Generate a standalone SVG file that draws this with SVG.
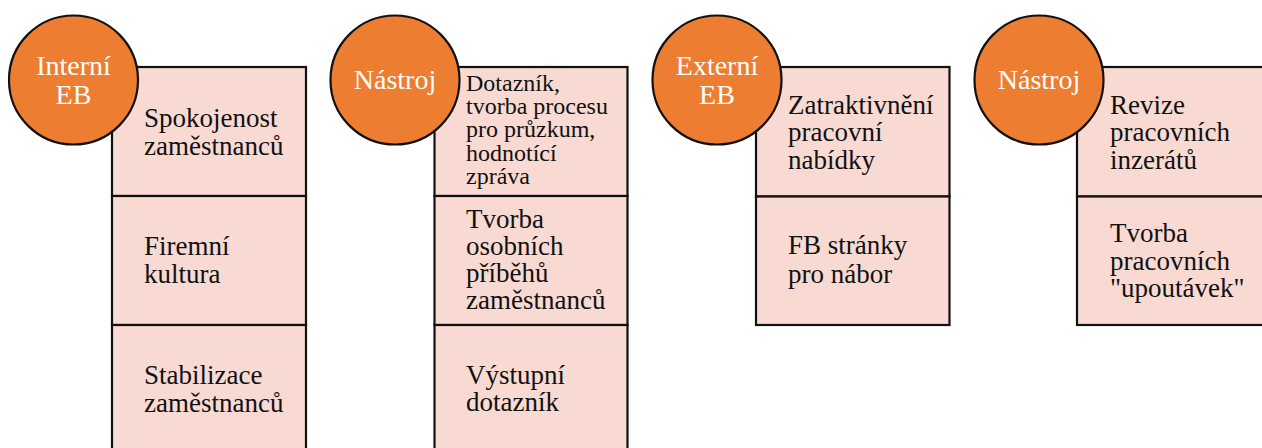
<svg xmlns="http://www.w3.org/2000/svg" width="1262" height="448" viewBox="0 0 1262 448">
<style>
.cell{fill:#F8DAD3;stroke:#111;stroke-width:2.2}
.circ{fill:#ED7D31;stroke:#111;stroke-width:2.2}
.t{font-family:"Liberation Serif","Times New Roman",serif;font-size:27px;fill:#111}
.ts{font-family:"Liberation Serif","Times New Roman",serif;font-size:24px;fill:#111}
.c{font-family:"Liberation Serif","Times New Roman",serif;font-size:28px;fill:#fff;text-anchor:middle}
</style>
<rect width="1262" height="448" fill="#fff"/>
<g id="connectors"/>
<!-- Column 1 -->
<g id="cell-spokojenost">
<rect class="cell" x="112" y="67" width="194" height="129"/>
<text class="t" x="144" y="127">Spokojenost</text>
<text class="t" x="144" y="155">zaměstnanců</text>
</g>
<g id="cell-firemni">
<rect class="cell" x="112" y="196" width="194" height="129"/>
<text class="t" x="144" y="255">Firemní</text>
<text class="t" x="144" y="283">kultura</text>
</g>
<g id="cell-stabilizace">
<rect class="cell" x="112" y="325" width="194" height="129"/>
<text class="t" x="144" y="384">Stabilizace</text>
<text class="t" x="144" y="412">zaměstnanců</text>
</g>
<g id="circle-interni">
<circle class="circ" cx="73.5" cy="80" r="64.5"/>
<text class="c" x="73.5" y="75">Interní</text>
<text class="c" x="73.5" y="104">EB</text>
</g>
<!-- Column 2 -->
<g id="cell-dotaznik">
<rect class="cell" x="434.5" y="67" width="193" height="129"/>
<text class="ts" x="466" y="90.5">Dotazník,</text>
<text class="ts" x="466" y="113.5">tvorba procesu</text>
<text class="ts" x="466" y="137">pro průzkum,</text>
<text class="ts" x="466" y="160.5">hodnotící</text>
<text class="ts" x="466" y="184">zpráva</text>
</g>
<g id="cell-pribehy">
<rect class="cell" x="434.5" y="196" width="193" height="129"/>
<text class="t" x="466" y="227.5">Tvorba</text>
<text class="t" x="466" y="254.5">osobních</text>
<text class="t" x="466" y="281.5">příběhů</text>
<text class="t" x="466" y="308.5">zaměstnanců</text>
</g>
<g id="cell-vystupni">
<rect class="cell" x="434.5" y="325" width="193" height="129"/>
<text class="t" x="466" y="383.5">Výstupní</text>
<text class="t" x="466" y="410.5">dotazník</text>
</g>
<g id="circle-nastroj-1">
<circle class="circ" cx="395" cy="80" r="64.5"/>
<text class="c" x="395" y="89">Nástroj</text>
</g>
<!-- Column 3 -->
<g id="cell-zatraktivneni">
<rect class="cell" x="756" y="67" width="193.5" height="129.5"/>
<text class="t" x="788" y="113.5">Zatraktivnění</text>
<text class="t" x="788" y="141">pracovní</text>
<text class="t" x="788" y="168.5">nabídky</text>
</g>
<g id="cell-fb">
<rect class="cell" x="756" y="196.5" width="193.5" height="128.5"/>
<text class="t" x="788" y="254">FB stránky</text>
<text class="t" x="788" y="282.5">pro nábor</text>
</g>
<g id="circle-externi">
<circle class="circ" cx="717" cy="80" r="64.5"/>
<text class="c" x="717" y="75">Externí</text>
<text class="c" x="717" y="104">EB</text>
</g>
<!-- Column 4 -->
<g id="cell-revize">
<rect class="cell" x="1077" y="67" width="193.5" height="129.5"/>
<text class="t" x="1110" y="113.5">Revize</text>
<text class="t" x="1110" y="141">pracovních</text>
<text class="t" x="1110" y="168.5">inzerátů</text>
</g>
<g id="cell-upoutavky">
<rect class="cell" x="1077" y="196.5" width="193.5" height="128.5"/>
<text class="t" x="1110" y="242">Tvorba</text>
<text class="t" x="1110" y="269.5">pracovních</text>
<text class="t" x="1110" y="297">"upoutávek"</text>
</g>
<g id="circle-nastroj-2">
<circle class="circ" cx="1039" cy="80" r="64.5"/>
<text class="c" x="1039" y="89">Nástroj</text>
</g>
</svg>
